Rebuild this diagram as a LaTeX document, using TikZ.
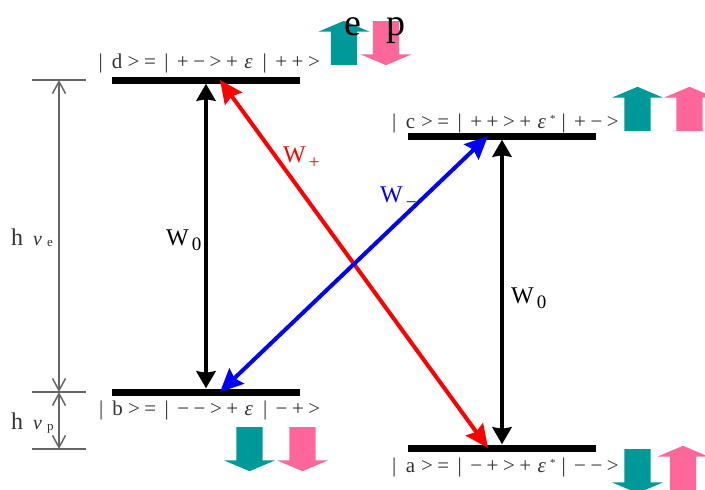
\documentclass[tikz,border=0pt]{standalone}
\usepackage{fontspec}
\setmainfont{Liberation Serif}
\usetikzlibrary{arrows.meta,positioning,shapes.arrows}
\definecolor{spinteal}{HTML}{009999}
\definecolor{spinpink}{HTML}{FF6699}
\definecolor{inkgray}{HTML}{333333}
\definecolor{gapgray}{HTML}{666666}
\newcommand{\cellrow}[1]{\foreach \ch in {#1}{\makebox[16.4pt]{\ch}}}
\newcommand{\eps}{{\itshape ε}}
\newcommand{\starmark}{\makebox[5.5pt]{\raisebox{5.5pt}{\fontsize{11}{11}\selectfont *}}}
\newcommand{\mns}{\textminus}
\newcommand{\wsub}[2]{\hspace{3pt}\raisebox{-#1pt}{\fontsize{19}{19}\selectfont #2}}
\newcommand{\hsub}[1]{\hspace{5pt}\raisebox{-1pt}{\fontsize{13}{13}\selectfont #1}}

\begin{document}
\begin{tikzpicture}[x=1pt, y=-1pt,
  level/.style = {fill=black, inner sep=0pt, minimum width=188pt, minimum height=7pt},
  statelabel/.style = {inner sep=0pt, anchor=base west, text=inkgray, font=\fontsize{21}{21}\selectfont},
  wlabel/.style = {inner sep=0pt, anchor=base west, font=\fontsize{24}{24}\selectfont},
  hlabel/.style = {inner sep=0pt, anchor=base west, text=inkgray, font=\fontsize{24}{24}\selectfont},
  transition/.style = {line width=4pt, >={Stealth[length=17pt, width=19pt, inset=1.5pt]}, <->},
  crossing/.style = {line width=4pt, >={Stealth[length=23pt, width=21pt, inset=3pt]}, <->},
  gap/.style = {draw=gapgray, line width=1.5pt},
  span/.style = {gapgray, line width=1.5pt, {Straight Barb[length=12pt, width=13pt]}-{Straight Barb[length=12pt, width=13pt]}},
  spin/.style = {single arrow, draw=none, anchor=tail, minimum height=44pt, minimum width=51pt, inner sep=0pt,
    text width=0pt, text height=26pt, text depth=0pt,
    single arrow head extend=12.5pt, single arrow tip angle=134, single arrow head indent=0pt},
  spinup/.style = {spin, rotate=90},
  spindown/.style = {spin, rotate=270}
  ]
\useasboundingbox (0,0) rectangle (705,490);

% energy levels
\node[level] (d) at (206,80) {};
\node[level] (c) at (502,136) {};
\node[level] (b) at (206,392) {};
\node[level] (a) at (502,448) {};

% state labels
\node[statelabel] (dlabel) at (92.4,68) {\cellrow{|,d,>,=,|,+,\mns,>,+,\eps,|,+,+,>}};
\node[statelabel] (clabel) at (385.8,128) {\cellrow{|,c,>,=,|,+,+,>,+,\eps}\starmark\cellrow{|,+,\mns,>}};
\node[statelabel] (blabel) at (92.8,415) {\cellrow{|,b,>,=,|,\mns,\mns,>,+,\eps,|,\mns,+,>}};
\node[statelabel] (alabel) at (385.8,472) {\cellrow{|,a,>,=,|,\mns,+,>,+,\eps}\starmark\cellrow{|,\mns,\mns,>}};

% transitions
\draw[transition] (d.south) -- (b.north);
\draw[transition] (c.south) -- (a.north);
\draw[crossing, red] ([xshift=14pt]d.center) -- ([xshift=-14pt]a.center);
\draw[crossing, blue] ([xshift=-14pt]c.center) -- ([xshift=14pt]b.center);

% transition labels
\node[wlabel] (w0left) at (166,245) {W\wsub{5}{0}};
\node[wlabel] (w0right) at (511,303) {W\wsub{5}{0}};
\node[wlabel, text=red] (wplus) at (283,162) {W\wsub{6}{+}};
\node[wlabel, text=blue] (wminus) at (380,202) {W\wsub{6}{\mns}};

% energy gaps
\coordinate (top) at (59,80);
\coordinate (mid) at (59,392);
\coordinate (low) at (59,449);
\draw[gap] ([xshift=-27pt]top) -- ([xshift=27pt]top);
\draw[gap] ([xshift=-27pt]mid) -- ([xshift=27pt]mid);
\draw[gap] ([xshift=-27pt]low) -- ([xshift=27pt]low);
\draw[span] (top) -- (mid);
\draw[span] (mid) -- (low);
\node[hlabel] (hve) at (11,245) {h\hspace{10pt}{\fontsize{20}{20}\selectfont\itshape ν}\hsub{e}};
\node[hlabel] (hvp) at (11,429) {h\hspace{10pt}{\fontsize{20}{20}\selectfont\itshape ν}\hsub{p}};

% spins
\node[spinup, fill=spinteal] (dup) at (344,65) {};
\node[spindown, fill=spinpink] (ddown) at (386,21) {};
\node[spinup, fill=spinteal] (cup) at (637.5,131) {};
\node[spinup, fill=spinpink] (cupp) at (689.5,131) {};
\node[spindown, fill=spinteal] (bdown) at (249.5,427) {};
\node[spindown, fill=spinpink] (bdownp) at (302.5,427) {};
\node[spindown, fill=spinteal] (adown) at (637.5,449) {};
\node[spinup, fill=spinpink] (aup) at (683,490) {};

% particles
\node[inner sep=0pt, font=\fontsize{38}{38}\selectfont, anchor=base] (ep) at (375,35) {e\hspace{25pt}p};
\end{tikzpicture}
\end{document}
